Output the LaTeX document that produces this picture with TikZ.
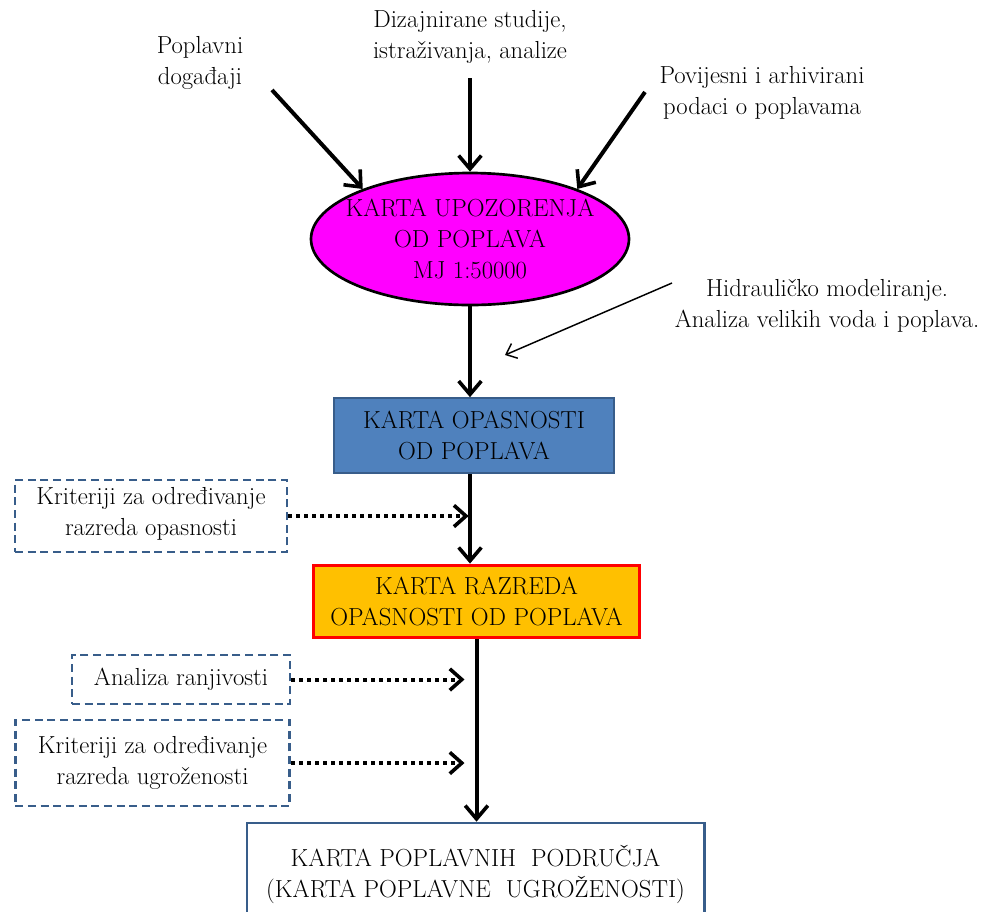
\documentclass[tikz,border=0pt]{standalone}
\usetikzlibrary{shapes.geometric,arrows.meta,calc}
\definecolor{magentaF}{HTML}{FF00FF}
\definecolor{boxblue}{HTML}{4F81BD}
\definecolor{edgeblue}{HTML}{385D8A}
\definecolor{orangeF}{HTML}{FFC000}
\definecolor{redE}{HTML}{FF0000}
\tikzset{
  txt/.style={align=center,inner sep=0pt,font=\fontsize{18.5pt}{23.3pt}\selectfont},
  mainarr/.style={line width=3pt,-{Straight Barb[length=10pt,width=17pt,line width=2.7pt]}},
  thinarr/.style={line width=1.1pt,-{Straight Barb[length=7pt,width=12pt,line width=1.1pt]}},
  dotarr/.style={line width=3pt,dash pattern=on 3pt off 3pt,-{Straight Barb[length=9pt,width=16pt,line width=2.7pt]}},
  dashbox/.style={draw=edgeblue,line width=2.2pt,dash pattern=on 6pt off 3.5pt,fill=white,inner sep=0pt},
}
\begin{document}
\begin{tikzpicture}[x=0.75pt,y=-0.75pt]
\useasboundingbox (0,0) rectangle (987,911);
\clip (0,0) rectangle (987,911);
% ellipse
\node[ellipse,draw=black,line width=2pt,fill=magentaF,minimum width=238.5pt,minimum height=99pt,inner sep=0pt] (ell) at (470,239) {};
\node[txt] (ellt) at (470,239) {KARTA UPOZORENJA\\OD POPLAVA\\MJ 1:50000};
% top labels
\node[txt] (l1) at (200,63) {Poplavni\\doga\dj aji};
\node[txt] (l2) at (470,37) {Dizajnirane studije,\\istra\v{z}ivanja, analize};
\node[txt] (l3) at (762,93) {Povijesni i arhivirani\\podaci o poplavama};
\coordinate (s1) at (272,90);
\coordinate (s2) at (470,78);
\coordinate (s3) at (645,92);
\draw[mainarr] (s1) -- (ell.155);
\draw[mainarr] (s2) -- (ell.north);
\draw[mainarr] (s3) -- (ell.25);
% hydraulic note
\node[txt] (hyd) at (827,306) {Hidrauli\v{c}ko modeliranje.\\Analiza velikih voda i poplava.};
\coordinate (h1) at (672,283);
\coordinate (h2) at (505,355);
\draw[thinarr] (h1) -- (h2);
% box opasnosti
\node[draw=edgeblue,line width=1.5pt,fill=boxblue,minimum width=210pt,minimum height=56pt,inner sep=0pt] (opas) at (474,435.5) {};
\node[txt] (opast) at (474,435.5) {KARTA OPASNOSTI\\OD POPLAVA};
\draw[mainarr] (ell.south) -- (ell.south |- opas.north);
% box razreda
\node[draw=redE,line width=2.4pt,fill=orangeF,minimum width=245pt,minimum height=54.5pt,inner sep=0pt] (raz) at (476.5,601.5) {};
\node[txt] (razt) at (476.5,601.5) {KARTA RAZREDA\\OPASNOSTI OD POPLAVA};
\draw[mainarr] (ell.south |- opas.south) -- (ell.south |- raz.north);
% final box
\node[draw=edgeblue,line width=2pt,fill=white,minimum width=343pt,minimum height=84pt,inner sep=0pt] (fin) at (475.5,879) {};
\node[txt] (fint) at (475.5,874) {KARTA POPLAVNIH\ \ PODRU\v{C}JA\\(KARTA POPLAVNE\ \ UGRO\v{Z}ENOSTI)};
\draw[mainarr] (raz.south) -- (raz.south |- fin.north);
% dashed boxes
\node[dashbox,minimum width=204pt,minimum height=54pt] (d1) at (151,516) {};
\node[txt] (d1t) at (151,514) {Kriteriji za odre\dj ivanje\\razreda opasnosti};
\node[dashbox,minimum width=163.5pt,minimum height=36.75pt] (d2) at (181,679.5) {};
\node[txt] (d2t) at (181,679.5) {Analiza ranjivosti};
\node[dashbox,minimum width=206pt,minimum height=64.5pt] (d3) at (152.5,763) {};
\node[txt] (d3t) at (152.5,763) {Kriteriji za odre\dj ivanje\\razreda ugro\v{z}enosti};
% dotted arrows
\draw[dotarr,shorten >=1pt] (d1.east) -- (d1.east -| ell.south);
\draw[dotarr,shorten >=9pt] (d2.east) -- (d2.east -| raz.south);
\draw[dotarr,shorten >=9pt] (d3.east) -- (d3.east -| raz.south);
\end{tikzpicture}
\end{document}
